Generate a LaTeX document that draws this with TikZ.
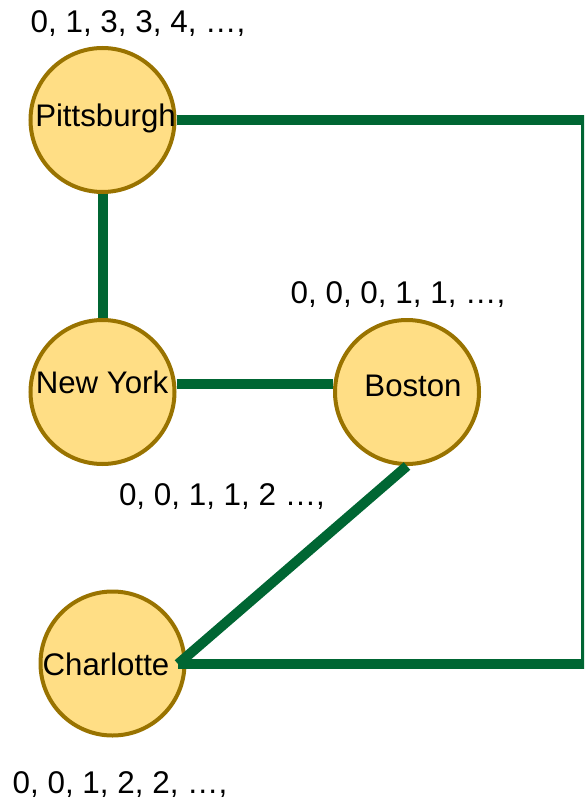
\documentclass[tikz,border=0pt]{standalone}
\usepackage{fontspec}
\setmainfont{Liberation Sans}
\definecolor{cityfill}{HTML}{FFDE85}
\definecolor{citydraw}{HTML}{997300}
\definecolor{edgegreen}{HTML}{006633}
\begin{document}
\begin{tikzpicture}[x=1pt,y=-1pt,
  city/.style={circle, minimum size=144pt, inner sep=0pt, fill=cityfill, draw=citydraw, line width=4pt},
  edge/.style={draw=edgegreen, line width=10pt},
  ctext/.style={anchor=base, inner sep=0pt, font=\fontsize{31.2}{36}\selectfont},
  seq/.style={anchor=base, inner sep=0pt, font=\fontsize{31.4}{36}\selectfont}]
\useasboundingbox (0,0) rectangle (584,799);
\clip (0,0) rectangle (584,799);
% cities
\node[city] (pit) at (102.5,120) {};
\node[city] (ny) at (102.5,392) {};
\node[city] (bos) at (407,392) {};
\node[city] (cha) at (112.5,663.5) {};
\coordinate (chp) at (178,664);
\coordinate (tr) at (586,120);
\coordinate (br) at (586,664);
% edges
\draw[edge] (pit.south) -- (ny.north);
\draw[edge] ([yshift=8pt]ny.east) -- ([yshift=8pt]bos.west);
\draw[edge] (bos.south) -- (chp);
\draw[edge, line join=miter] (pit.east) -- (tr) -- (br) -- (chp);
% city names
\node[ctext] (tpit) at (105.5,127) {Pittsburgh};
\node[ctext] (tny) at (102,393) {New York};
\node[ctext] (tbos) at (413,396) {Boston};
\node[ctext] (tcha) at (106,675) {Charlotte};
% sequences
\node[seq] (spit) at (138,33) {0, 1, 3, 3, 4, …,};
\node[seq] (sbos) at (398,303) {0, 0, 0, 1, 1, …,};
\node[seq] (sny) at (222,505) {0, 0, 1, 1, 2 …,};
\node[seq] (scha) at (120,793) {0, 0, 1, 2, 2, …,};
\end{tikzpicture}
\end{document}
